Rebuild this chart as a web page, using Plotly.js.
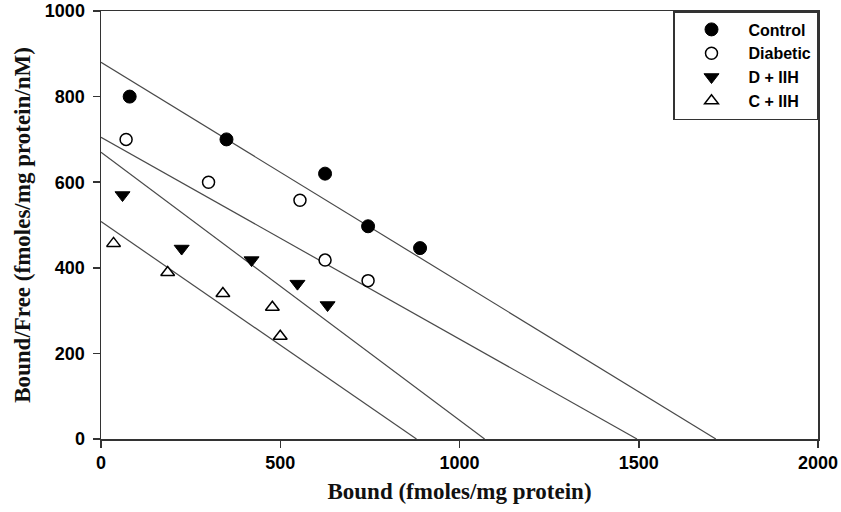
<!DOCTYPE html>
<html>
<head>
<meta charset="utf-8">
<script src="https://cdn.plot.ly/plotly-3.0.1.min.js"></script>
<style>html,body{margin:0;padding:0;background:#fff;}#chart{width:841px;height:512px;}</style>
</head>
<body>
<div id="chart"></div>
<script>
// Data (Scatchard plot)
const controlX = [80, 350, 625, 745, 890];
const controlY = [800, 700, 620, 497, 446];
const diabeticX = [70, 300, 555, 625, 745];
const diabeticY = [700, 600, 558, 418, 370];
const dIIHX = [60, 225, 420, 548, 632];
const dIIHY = [570, 445, 418, 363, 313];
const cIIHX = [35, 186, 340, 478, 500];
const cIIHY = [457, 389, 340, 308, 240];

// Regression lines: y-intercept (Bound/Free at Bound = 0) and x-intercept (Bound at Bound/Free = 0)
const lineNames = ['Control', 'Diabetic', 'D + IIH', 'C + IIH'];
const lineYIntercepts = [880, 705, 670, 508];
const lineXIntercepts = [1715, 1495, 1070, 880];

const xTicks = [0, 500, 1000, 1500, 2000];
const yTicks = [0, 200, 400, 600, 800, 1000];

const traces = [];
for (let i = 0; i < lineNames.length; i++) {
  traces.push({
    x: [0, lineXIntercepts[i]], y: [lineYIntercepts[i], 0],
    mode: 'lines', type: 'scatter', showlegend: false, hoverinfo: 'skip',
    line: {color: '#4a4a4a', width: 1.2}
  });
}
traces.push({x: controlX, y: controlY, name: 'Control', mode: 'markers', type: 'scatter',
  marker: {symbol: 'circle', size: 13, color: '#000', line: {color: '#000', width: 1}}});
traces.push({x: diabeticX, y: diabeticY, name: 'Diabetic', mode: 'markers', type: 'scatter',
  marker: {symbol: 'circle', size: 12, color: '#fff', line: {color: '#000', width: 1.5}}});
traces.push({x: dIIHX, y: dIIHY, name: 'D + IIH', mode: 'markers', type: 'scatter',
  marker: {symbol: 'triangle-down', size: 13, color: '#000', line: {color: '#000', width: 1}}});
traces.push({x: cIIHX, y: cIIHY, name: 'C + IIH', mode: 'markers', type: 'scatter',
  marker: {symbol: 'triangle-up', size: 12, color: '#fff', line: {color: '#000', width: 1.5}}});

const tickFont = {family: 'Liberation Sans, Arial, sans-serif', size: 18, color: '#000', weight: 700};
const titleFont = {family: 'Liberation Serif, Times New Roman, serif', size: 23, color: '#111', weight: 700};

const layout = {
  width: 841, height: 512,
  margin: {l: 101, r: 23, t: 11, b: 73},
  paper_bgcolor: '#fff', plot_bgcolor: '#fff',
  showlegend: true,
  legend: {
    x: 1, xanchor: 'right', y: 1, yanchor: 'top',
    bordercolor: '#333', borderwidth: 1.5, bgcolor: '#fff',
    itemwidth: 64,
    font: {family: 'Liberation Sans, Arial, sans-serif', size: 16, color: '#000', weight: 700}
  },
  xaxis: {
    range: [0, 2000], tickvals: xTicks, ticktext: xTicks.map(v => '<b>' + v + '</b>'),
    showgrid: false, zeroline: false, showline: true, mirror: true,
    linecolor: '#333', linewidth: 1.5, ticks: 'outside', ticklen: 7, tickcolor: '#333', tickwidth: 1.5,
    tickfont: tickFont,
    title: {text: '<b>Bound (fmoles/mg protein)</b>', font: titleFont, standoff: 11}
  },
  yaxis: {
    range: [0, 1000], tickvals: yTicks, ticktext: yTicks.map(v => '<b>' + v + '</b>'),
    showgrid: false, zeroline: false, showline: true, mirror: true,
    linecolor: '#333', linewidth: 1.5, ticks: 'outside', ticklen: 7, tickcolor: '#333', tickwidth: 1.5,
    tickfont: tickFont, ticklabelstandoff: 4,
    title: {text: '<b>Bound/Free (fmoles/mg protein/nM)</b>', font: titleFont, standoff: 8}
  }
};

Plotly.newPlot('chart', traces, layout, {displayModeBar: false, staticPlot: true});
</script>
</body>
</html>
